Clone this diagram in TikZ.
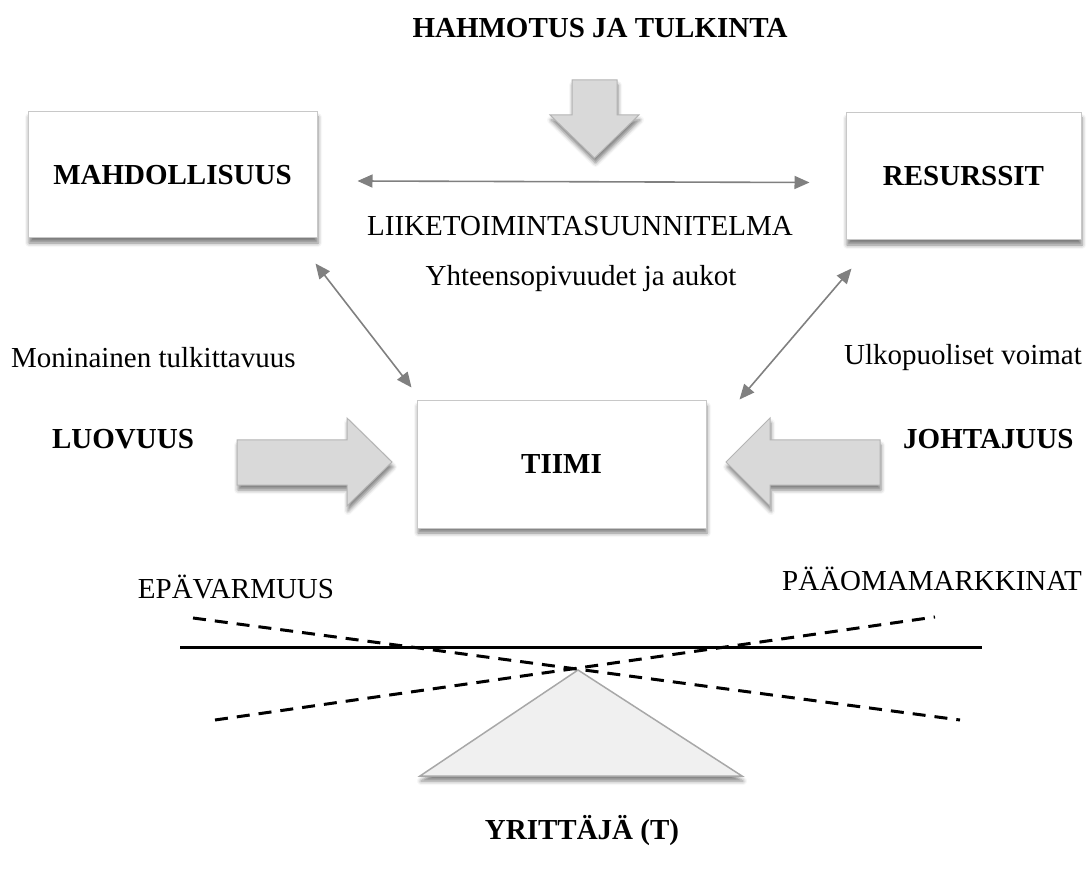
\documentclass[tikz,border=0pt]{standalone}
\usepackage{fontspec}
\setmainfont{Liberation Serif}
\usetikzlibrary{arrows.meta,shadows.blur,calc}

\definecolor{boxline}{HTML}{C8C8C8}
\definecolor{arrowfill}{HTML}{D9D9D9}
\definecolor{arrowline}{HTML}{B4B4B4}
\definecolor{linkgray}{HTML}{808080}
\definecolor{basefill}{HTML}{F0F0F0}
\definecolor{baseline}{HTML}{A8A8A8}

\newcommand{\bodysize}{\fontsize{29}{34}\selectfont}

\tikzset{
  soft shadow/.style={blur shadow={shadow xshift=1pt, shadow yshift=-5pt,
      shadow blur radius=4pt, shadow opacity=50}},
  conceptbox/.style={draw=boxline, fill=white, line width=1pt, inner sep=0pt,
      soft shadow, font=\bodysize\bfseries},
  label/.style={inner sep=0pt, font=\bodysize},
  boldlabel/.style={inner sep=0pt, font=\bodysize\bfseries},
  link/.style={draw=linkgray, line width=1.6pt,
      {Triangle[length=15pt,width=13pt]}-{Triangle[length=15pt,width=13pt]}},
  blockarrow/.style={draw=arrowline, fill=arrowfill, line width=1pt,
      line join=miter, soft shadow},
  beam/.style={line width=3pt, black},
  tilt/.style={line width=3pt, black, dash pattern=on 13pt off 9pt},
}

\begin{document}
\begin{tikzpicture}[x=1pt, y=-1pt]
\useasboundingbox (0,0) rectangle (1090,874);

% the three concept boxes
\node[conceptbox, minimum width=289pt, minimum height=126pt] (m) at (172.5,175) {MAHDOLLISUUS};
\node[conceptbox, minimum width=235pt, minimum height=127pt] (r) at (963.5,176.5) {RESURSSIT};
\node[conceptbox, minimum width=289pt, minimum height=127pt] (t) at (561.5,464.5) {TIIMI};

% headings and side labels
\node[boldlabel] (hahmo) at (600,28) {HAHMOTUS JA TULKINTA};
\node[label] (plan) at (580,226) {LIIKETOIMINTASUUNNITELMA};
\node[label] (fit) at (581,279) {Yhteensopivuudet ja aukot};
\node[label, anchor=west] (moni) at (11,358) {Moninainen tulkittavuus};
\node[label, anchor=east] (ulko) at (1082,358) {Ulkopuoliset voimat};
\node[boldlabel] (luo) at (123,439) {LUOVUUS};
\node[boldlabel, anchor=west] (joht) at (903,439) {JOHTAJUUS};
\node[label] (epa) at (236,587) {EPÄVARMUUS};
\node[label, anchor=west] (paa) at (782,579) {PÄÄOMAMARKKINAT};
\node[boldlabel] (yrit) at (582,831) {YRITTÄJÄ (T)};

% links between the boxes
\draw[link] ($(m.east)+(40,6)$) -- ($(r.west)+(-36,6)$);
\draw[link] ($(m.south east)+(-2,25)$) -- ($(t.north west)+(-5,-13)$);
\draw[link] ($(r.south west)+(6,28)$) -- ($(t.north east)+(33,-1)$);

% block arrows
\draw[blockarrow] (572,80) -- (617,80) -- (617,115) -- (639,115) -- (594.5,158)
  -- (550,115) -- (572,115) -- cycle;
\draw[blockarrow] (237,440) -- (347,440) -- (347,418) -- (392,462) -- (347,506)
  -- (347,485) -- (237,485) -- cycle;
\draw[blockarrow] (880,440) -- (770,440) -- (770,418) -- (726,462) -- (770,506)
  -- (770,485) -- (880,485) -- cycle;

% balance: fulcrum, beam and tilted positions
\draw[fill=basefill, draw=baseline, line width=1.5pt, line join=miter, soft shadow]
  (578,670) -- (742,776) -- (420,776) -- cycle;
\coordinate (b1) at (180,647);
\coordinate (b2) at (982,647);
\draw[beam] (b1) -- (b2);
\coordinate (d1) at (193,618);
\coordinate (d2) at (960,720);
\coordinate (e1) at (215,720);
\coordinate (e2) at (935,617);
\draw[tilt] (d1) -- (d2);
\draw[tilt] (e1) -- (e2);
\end{tikzpicture}
\end{document}
